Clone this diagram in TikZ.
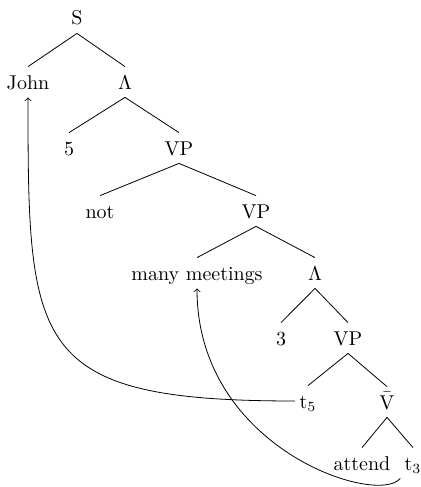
\documentclass[tikz,border=0pt]{standalone}
\usepackage{amsmath}
\usepackage{tikz}
\newcommand{\branch}[3]{
\draw (#1.south) -- (#2.north);
\draw (#1.south) -- (#3.north);
}

\begin{document}
\begin{tikzpicture}[x=0.5pt, y=-0.5pt,
  every node/.style={text height=9pt, text depth=2pt, inner sep=2pt}]
\useasboundingbox (0, 0) rectangle (420, 487);
\node (s) at (77, 18) {S};
\node (john) at (28, 82) {John};
\node (lama) at (125, 82) {$\Lambda$};
\node (five) at (69, 148) {5};
\node (vpa) at (179, 148) {VP};
\node (not) at (100, 211) {not};
\node (vpb) at (256, 211) {VP};
\node (mm) at (197, 273) {many meetings};
\node (lamb) at (315, 273) {$\Lambda$};
\node (three) at (281, 338) {3};
\node (vpc) at (348, 338) {VP};
\node (tfive) at (308, 401) {t$_5$};
\node (vbar) at (387, 402) {$\bar{\mathrm{V}}$};
\node (attend) at (362, 463) {attend};
\node (tthree) at (413, 463) {t$_3$};
\branch{s}{john}{lama}
\branch{lama}{five}{vpa}
\branch{vpa}{not}{vpb}
\branch{vpb}{mm}{lamb}
\branch{lamb}{three}{vpc}
\branch{vpc}{tfive}{vbar}
\branch{vbar}{attend}{tthree}
% movement
\draw[->] (tfive.west) .. controls +(-265, 0) and +(0, 250) .. (john.south);
\draw[->] (tthree.south west) .. controls +(-22, 28) and +(0, 161) .. (mm.south);
\end{tikzpicture}
\end{document}
